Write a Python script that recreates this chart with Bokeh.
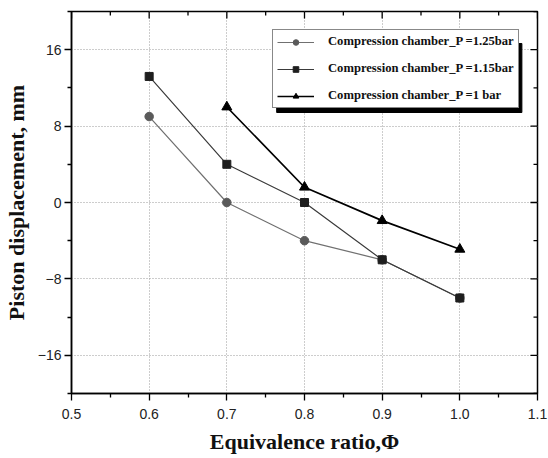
from bokeh.plotting import figure
from bokeh.models import (FixedTicker, Legend, LegendItem,
                          Range1d, ColumnDataSource, PrintfTickFormatter)
from bokeh.embed import file_html
from bokeh.resources import INLINE

# data
phi_a = [0.6, 0.7, 0.8, 0.9, 1.0]
disp_125 = [9.0, 0.0, -4.0, -6.0, -10.0]
phi_b = [0.6, 0.7, 0.8, 0.9, 1.0]
disp_115 = [13.2, 4.0, 0.0, -6.0, -10.0]
phi_c = [0.7, 0.8, 0.9, 1.0]
disp_100 = [10.0, 1.6, -1.9, -4.9]
labels = ["Compression chamber_P =1.25bar",
          "Compression chamber_P =1.15bar",
          "Compression chamber_P =1 bar"]
x_ticks = [0.5, 0.6, 0.7, 0.8, 0.9, 1.0, 1.1]
x_minor = [0.55, 0.65, 0.75, 0.85, 0.95, 1.05]
y_ticks = [-16, -8, 0, 8, 16]
y_minor = [-20, -12, -4, 4, 12, 20]

X0, X1, Y0, Y1 = 0.5, 1.1, -20, 20
p = figure(width=548, height=458, output_backend="svg", toolbar_location=None,
           x_range=Range1d(X0, X1), y_range=Range1d(Y0, Y1),
           min_border_left=71, min_border_right=11, min_border_top=11,
           min_border_bottom=65, background_fill_color="white",
           border_fill_color="white")

p.outline_line_color = "black"
p.outline_line_width = 1.5

def style_axis(ax):
    ax.axis_line_color = "black"
    ax.axis_line_width = 1.5
    ax.major_tick_line_color = "black"
    ax.minor_tick_line_color = "black"
    ax.major_tick_line_width = 1.3
    ax.minor_tick_line_width = 1.3
    ax.major_tick_in = 0
    ax.major_tick_out = 7
    ax.minor_tick_in = 0
    ax.minor_tick_out = 4
    ax.major_label_text_font = "Liberation Sans"
    ax.major_label_text_font_size = "14px"
    ax.major_label_text_color = "#222222"

xt = FixedTicker(ticks=x_ticks, minor_ticks=x_minor)
yt = FixedTicker(ticks=y_ticks, minor_ticks=y_minor)

xa = p.xaxis[0]
xa.ticker = xt
xa.formatter = PrintfTickFormatter(format="%.1f")
style_axis(xa)
xa.major_label_standoff = 8
xa.axis_label = "Equivalence ratio,\u03a6"
xa.axis_label_text_font = "Liberation Serif"
xa.axis_label_text_font_style = "bold"
xa.axis_label_text_font_size = "22px"
xa.axis_label_text_color = "#111111"
xa.axis_label_standoff = 7

ya = p.yaxis[0]
ya.ticker = yt
style_axis(ya)
ya.major_label_standoff = 3
ya.axis_label = "Piston displacement, mm"
ya.axis_label_text_font = "Liberation Serif"
ya.axis_label_text_font_style = "bold"
ya.axis_label_text_font_size = "22px"
ya.axis_label_text_color = "#111111"
ya.axis_label_standoff = 6

for g in (p.xgrid[0], p.ygrid[0]):
    g.grid_line_color = "#9a9a9a"
    g.grid_line_dash = "1 2"
    g.grid_line_width = 1
p.xgrid[0].ticker = FixedTicker(ticks=x_ticks[1:-1])
p.ygrid[0].ticker = FixedTicker(ticks=y_ticks)

px_x = (X1 - X0) / 465.6
px_y = (Y1 - Y0) / 382.0

def sx(px):  # screen px (from page left) -> data x
    return X0 + (px - 71) * px_x

def sy(py):  # screen px (from page top) -> data y
    return Y1 - (py - 11) * px_y

# drop shadow behind the legend box
p.quad(left=[sx(276)], right=[sx(521)], top=[sy(43)], bottom=[sy(112)],
       fill_color="#000000", line_color="#000000", fill_alpha=1.0)

# inward ticks on the top and right frame edges
for ticks, ln in ((x_ticks, 7), (x_minor, 4)):
    p.segment(x0=ticks, x1=ticks, y0=[Y1] * len(ticks),
              y1=[Y1 - ln * px_y] * len(ticks), line_color="black", line_width=1.3)
for ticks, ln in ((y_ticks, 7), (y_minor, 4)):
    p.segment(x0=[X1] * len(ticks), x1=[X1 - ln * px_x] * len(ticks),
              y0=ticks, y1=ticks, line_color="black", line_width=1.3)

src_a = ColumnDataSource(dict(x=phi_a, y=disp_125))
src_b = ColumnDataSource(dict(x=phi_b, y=disp_115))
src_c = ColumnDataSource(dict(x=phi_c, y=disp_100))

la = p.line("x", "y", source=src_a, line_color="#707070", line_width=1.2)
ma = p.scatter("x", "y", source=src_a, marker="circle", size=8.5,
               fill_color="#5a5a5a", line_color="#5a5a5a")
lb = p.line("x", "y", source=src_b, line_color="#3a3a3a", line_width=1.2)
mb = p.scatter("x", "y", source=src_b, marker="square", size=8,
               fill_color="#1e1e1e", line_color="#1e1e1e")
lc = p.line("x", "y", source=src_c, line_color="black", line_width=1.7)
mc = p.scatter("x", "y", source=src_c, marker="triangle", size=10,
               fill_color="black", line_color="black")

legend = Legend(items=[LegendItem(label=labels[0], renderers=[la, ma]),
                       LegendItem(label=labels[1], renderers=[lb, mb]),
                       LegendItem(label=labels[2], renderers=[lc, mc])],
                location=(201, 285), padding=4, spacing=12, margin=0,
                label_height=14, glyph_height=14, glyph_width=37,
                label_standoff=14, label_width=186,
                label_text_font="Liberation Serif", label_text_font_style="bold",
                label_text_font_size="12.6px", label_text_color="#111111",
                background_fill_color="white", background_fill_alpha=1.0,
                border_line_color="#888888", border_line_width=1,
                border_line_alpha=1.0)
p.add_layout(legend, "center")

open("out.html", "w").write(file_html(p, INLINE))
